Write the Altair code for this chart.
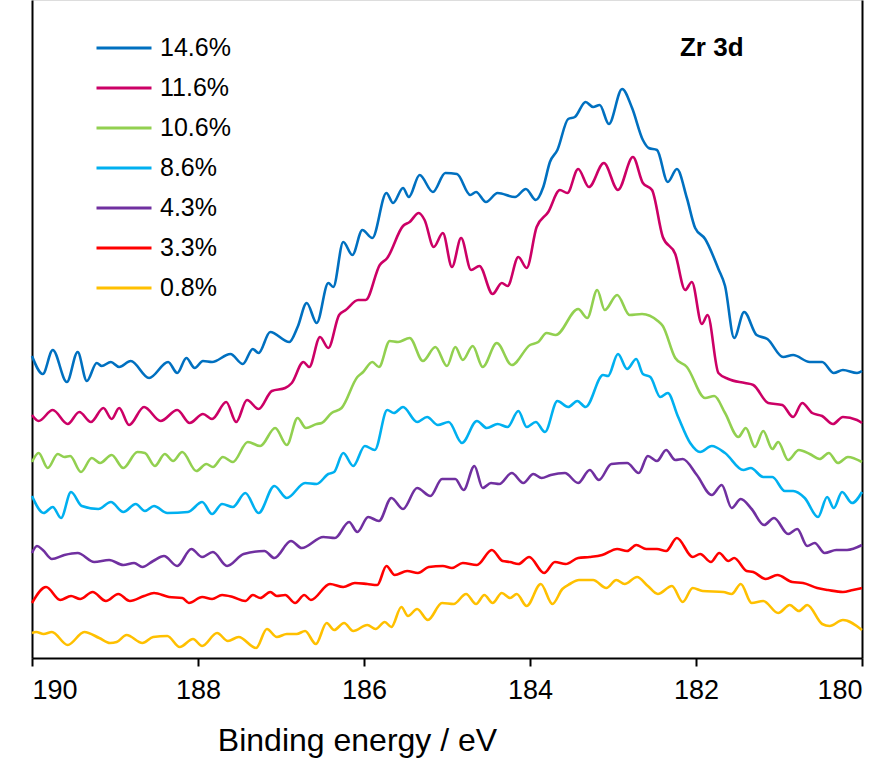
import altair as alt
import pandas as pd

# Zr 3d XPS spectra, stacked with vertical offsets (arbitrary intensity units)
series_labels = ["14.6%", "11.6%", "10.6%", "8.6%", "4.3%", "3.3%", "0.8%"]
series_colors = ["#0070C0", "#CC0066", "#92D050", "#00B0F0", "#7030A0", "#FF0000", "#FFC000"]

be_146 = [190.00, 189.87, 189.75, 189.58, 189.45, 189.34, 189.22, 189.16, 189.05, 188.95, 188.81, 188.59,
          188.36, 188.25, 188.14, 188.04, 187.94, 187.83, 187.61, 187.46, 187.34, 187.27, 187.13, 186.90,
          186.80, 186.69, 186.57, 186.43, 186.37, 186.25, 186.14, 186.02, 185.90, 185.73, 185.65, 185.53,
          185.46, 185.33, 185.17, 185.02, 184.88, 184.72, 184.65, 184.53, 184.39, 184.18, 184.05, 183.93,
          183.84, 183.76, 183.67, 183.54, 183.46, 183.33, 183.24, 183.16, 183.05, 182.89, 182.77, 182.64,
          182.57, 182.47, 182.34, 182.23, 182.11, 182.01, 181.89, 181.73, 181.65, 181.54, 181.42, 181.27,
          181.14, 180.95, 180.83, 180.63, 180.48, 180.34, 180.23, 180.06, 180.00]
int_146 = [302, 284, 308, 276, 306, 277, 295, 292, 296, 291, 297, 280,
           296, 285, 300, 290, 297, 296, 304, 294, 309, 305, 326, 316,
           331, 355, 335, 375, 371, 416, 403, 428, 420, 465, 455, 470,
           461, 483, 466, 485, 484, 463, 466, 456, 465, 461, 469, 458,
           471, 496, 508, 539, 541, 556, 551, 553, 534, 569, 550, 518,
           510, 508, 476, 489, 460, 430, 419, 389, 372, 320, 346, 323,
           319, 301, 303, 296, 296, 285, 288, 285, 287]

be_116 = [190.00, 189.92, 189.75, 189.57, 189.43, 189.29, 189.14, 189.04, 188.95, 188.83, 188.65, 188.45,
          188.25, 188.10, 187.94, 187.83, 187.66, 187.54, 187.41, 187.27, 187.11, 186.95, 186.87, 186.73,
          186.66, 186.53, 186.43, 186.30, 186.22, 186.07, 185.98, 185.81, 185.72, 185.53, 185.45, 185.34,
          185.27, 185.16, 185.05, 184.94, 184.83, 184.71, 184.61, 184.45, 184.34, 184.27, 184.14, 184.04,
          183.92, 183.78, 183.64, 183.55, 183.42, 183.29, 183.11, 182.94, 182.76, 182.64, 182.53, 182.40,
          182.25, 182.13, 182.05, 181.93, 181.86, 181.73, 181.61, 181.41, 181.31, 181.13, 180.96, 180.83,
          180.72, 180.60, 180.48, 180.35, 180.23, 180.06, 180.00]
int_116 = [243, 237, 248, 234, 246, 236, 250, 239, 250, 233, 251, 237,
           248, 235, 244, 239, 256, 236, 258, 249, 267, 270, 275, 296,
           291, 321, 310, 343, 348, 358, 358, 393, 400, 432, 436, 445,
           438, 411, 425, 391, 420, 388, 392, 364, 375, 372, 401, 390,
           431, 446, 468, 465, 489, 471, 495, 468, 501, 475, 468, 421,
           404, 368, 376, 334, 343, 285, 279, 275, 273, 255, 253, 241,
           255, 245, 242, 234, 241, 238, 235]

be_106 = [190.00, 189.92, 189.81, 189.69, 189.61, 189.54, 189.41, 189.28, 189.18, 189.04, 188.90, 188.73,
          188.64, 188.52, 188.40, 188.30, 188.19, 188.02, 187.90, 187.82, 187.70, 187.58, 187.40, 187.25,
          187.07, 186.93, 186.80, 186.70, 186.57, 186.51, 186.39, 186.27, 186.08, 186.01, 185.90, 185.82,
          185.69, 185.59, 185.45, 185.29, 185.14, 185.00, 184.90, 184.81, 184.69, 184.57, 184.40, 184.22,
          184.00, 183.90, 183.80, 183.69, 183.42, 183.31, 183.19, 183.10, 182.95, 182.80, 182.65, 182.46,
          182.40, 182.25, 182.11, 181.89, 181.78, 181.65, 181.49, 181.40, 181.29, 181.19, 181.08, 181.01,
          180.89, 180.76, 180.63, 180.51, 180.40, 180.29, 180.17, 180.00]
int_106 = [196, 205, 190, 204, 201, 202, 186, 200, 195, 203, 190, 206,
           205, 192, 204, 197, 206, 187, 194, 191, 201, 196, 216, 212,
           230, 213, 240, 230, 234, 235, 245, 250, 281, 286, 296, 291,
           317, 316, 320, 297, 311, 292, 311, 298, 312, 291, 315, 293,
           313, 316, 325, 323, 349, 340, 368, 348, 363, 343, 344, 337,
           332, 300, 291, 260, 262, 245, 221, 230, 211, 227, 209, 216,
           198, 208, 204, 199, 205, 195, 201, 196]

be_86 = [190.00, 189.86, 189.75, 189.65, 189.53, 189.40, 189.20, 189.05, 188.90, 188.75, 188.64, 188.53,
         188.37, 188.12, 187.95, 187.83, 187.71, 187.58, 187.43, 187.27, 187.08, 186.93, 186.71, 186.57,
         186.43, 186.36, 186.25, 186.13, 185.99, 185.87, 185.72, 185.64, 185.53, 185.36, 185.24, 185.11,
         184.98, 184.82, 184.64, 184.52, 184.39, 184.27, 184.14, 184.04, 183.93, 183.82, 183.67, 183.54,
         183.43, 183.33, 183.12, 183.06, 182.94, 182.83, 182.72, 182.64, 182.55, 182.43, 182.34, 182.22,
         182.07, 181.95, 181.81, 181.65, 181.43, 181.34, 181.19, 181.08, 180.93, 180.83, 180.69, 180.53,
         180.42, 180.34, 180.24, 180.12, 180.00]
int_86 = [162, 145, 151, 140, 166, 152, 149, 156, 146, 154, 147, 152,
          145, 146, 156, 144, 154, 151, 165, 145, 172, 160, 175, 174,
          184, 186, 205, 192, 212, 208, 248, 245, 251, 236, 241, 233,
          236, 215, 237, 230, 234, 231, 247, 231, 236, 226, 257, 251,
          257, 251, 283, 282, 304, 289, 299, 284, 281, 261, 265, 242,
          215, 206, 212, 205, 188, 190, 181, 181, 167, 167, 160, 141,
          161, 150, 166, 155, 166]

be_43 = [190.00, 189.94, 189.87, 189.76, 189.61, 189.45, 189.25, 189.07, 188.90, 188.77, 188.67, 188.54,
         188.41, 188.25, 188.08, 187.95, 187.82, 187.65, 187.45, 187.20, 187.08, 186.88, 186.75, 186.49,
         186.35, 186.18, 186.08, 185.95, 185.82, 185.67, 185.53, 185.36, 185.20, 185.06, 184.90, 184.80,
         184.67, 184.57, 184.47, 184.37, 184.22, 184.08, 183.96, 183.86, 183.75, 183.58, 183.42, 183.28,
         183.17, 183.02, 182.83, 182.69, 182.58, 182.47, 182.36, 182.25, 182.16, 181.99, 181.81, 181.69,
         181.57, 181.46, 181.33, 181.18, 181.06, 180.89, 180.78, 180.66, 180.57, 180.45, 180.31, 180.18,
         180.00]
int_43 = [105, 112, 108, 99, 103, 105, 96, 98, 93, 95, 91, 97,
          102, 92, 109, 101, 106, 92, 104, 107, 100, 117, 110, 121,
          120, 136, 126, 141, 137, 160, 149, 170, 162, 179, 179, 168,
          192, 170, 175, 174, 185, 175, 184, 180, 183, 185, 175, 188,
          178, 194, 195, 185, 202, 197, 208, 198, 199, 183, 163, 173,
          150, 159, 149, 133, 140, 124, 129, 112, 115, 105, 108, 108,
          113]

be_33 = [190.00, 189.83, 189.66, 189.53, 189.42, 189.27, 189.11, 188.96, 188.82, 188.65, 188.53, 188.35,
         188.19, 188.11, 187.95, 187.83, 187.71, 187.58, 187.43, 187.34, 187.25, 187.13, 187.05, 186.95,
         186.83, 186.72, 186.64, 186.41, 186.25, 186.11, 185.96, 185.84, 185.73, 185.63, 185.48, 185.35,
         185.22, 185.05, 184.94, 184.81, 184.64, 184.46, 184.33, 184.24, 184.14, 184.01, 183.83, 183.70,
         183.57, 183.42, 183.28, 183.13, 182.95, 182.83, 182.72, 182.60, 182.47, 182.36, 182.23, 182.04,
         181.95, 181.82, 181.72, 181.61, 181.54, 181.39, 181.31, 181.16, 181.02, 180.84, 180.71, 180.54,
         180.41, 180.23, 180.11, 180.00]
int_33 = [55, 71, 58, 62, 59, 66, 57, 64, 57, 62, 65, 61,
          60, 55, 61, 59, 63, 61, 57, 63, 60, 66, 62, 63,
          55, 63, 58, 74, 71, 75, 74, 73, 92, 83, 87, 85,
          91, 92, 90, 95, 93, 108, 97, 96, 94, 101, 85, 96,
          94, 100, 101, 103, 109, 107, 113, 109, 109, 107, 120, 101,
          104, 96, 105, 97, 100, 87, 86, 79, 83, 76, 75, 70,
          68, 66, 68, 70]

be_08 = [190.00, 189.95, 189.86, 189.76, 189.57, 189.37, 189.19, 189.06, 188.98, 188.86, 188.67, 188.54,
         188.37, 188.22, 188.06, 187.95, 187.77, 187.64, 187.51, 187.30, 187.17, 187.05, 186.93, 186.81,
         186.71, 186.58, 186.45, 186.36, 186.24, 186.13, 185.96, 185.86, 185.75, 185.67, 185.55, 185.47,
         185.36, 185.23, 185.06, 184.92, 184.77, 184.65, 184.55, 184.45, 184.34, 184.24, 184.16, 184.04,
         183.87, 183.73, 183.61, 183.52, 183.41, 183.24, 183.08, 182.96, 182.86, 182.71, 182.58, 182.46,
         182.29, 182.16, 182.04, 181.92, 181.67, 181.57, 181.46, 181.33, 181.19, 181.01, 180.87, 180.76,
         180.66, 180.48, 180.39, 180.23, 180.00]
int_08 = [25, 26, 24, 26, 13, 26, 20, 15, 16, 23, 15, 21,
          22, 11, 19, 12, 25, 17, 21, 10, 29, 21, 24, 24,
          27, 14, 35, 28, 35, 27, 33, 29, 36, 31, 51, 42,
          49, 38, 55, 54, 64, 54, 63, 55, 65, 60, 64, 52,
          74, 54, 69, 74, 78, 78, 70, 78, 74, 81, 72, 64,
          72, 56, 70, 67, 66, 64, 74, 55, 57, 45, 53, 47,
          53, 34, 32, 38, 28]

energy_sets = [be_146, be_116, be_106, be_86, be_43, be_33, be_08]
intensity_sets = [int_146, int_116, int_106, int_86, int_43, int_33, int_08]

frames = []
for label, be, inten in zip(series_labels, energy_sets, intensity_sets):
    frames.append(pd.DataFrame({"energy": be, "intensity": inten, "sample": label}))
spectra = pd.concat(frames, ignore_index=True)

tick_values = [180, 182, 184, 186, 188, 190]
font = "Liberation Sans"

x_scale = alt.Scale(domain=[180, 190], reverse=True, nice=False, zero=False)
y_scale = alt.Scale(domain=[0, 658], nice=False, zero=False)

# one shared bottom axis definition, reused by every layer
x_enc = alt.X(
    "energy:Q",
    scale=x_scale,
    axis=alt.Axis(
        values=tick_values, format="d", grid=False,
        domainColor="black", domainWidth=2,
        tickColor="black", tickWidth=2, tickSize=8,
        labelFont=font, labelFontSize=27, labelColor="black", labelPadding=11,
        title="Binding energy / eV", titleFont=font, titleFontSize=32,
        titleFontWeight="normal", titleColor="black",
        titleX=325, titleY=92, titleAlign="center", titleBaseline="alphabetic",
    ),
)

def frame_axis(side):
    return alt.Axis(orient=side, title=None, labels=False, ticks=False, grid=False,
                    domainColor="black", domainWidth=2)

lines = alt.Chart(spectra).mark_line(strokeWidth=2.6, interpolate="monotone").encode(
    x=x_enc,
    y=alt.Y("intensity:Q", scale=y_scale, axis=frame_axis("left")),
    color=alt.Color(
        "sample:N",
        scale=alt.Scale(domain=series_labels, range=series_colors),
        legend=alt.Legend(
            title=None, orient="none", legendX=63, legendY=35,
            symbolType="stroke", symbolSize=3025, symbolStrokeWidth=3,
            labelFont=font, labelFontSize=25, labelColor="black",
            labelOffset=7, clipHeight=26, rowPadding=14, padding=0,
        ),
    ),
)

# invisible copy of the spectra that only carries the right-hand frame line
right_frame = alt.Chart(spectra).mark_line(opacity=0).encode(
    x=x_enc,
    y=alt.Y("intensity:Q", scale=y_scale, axis=frame_axis("right")),
    detail="sample:N",
)

tag = alt.Chart(pd.DataFrame({"energy": [181.81], "intensity": [610], "label": ["Zr 3d"]})).mark_text(
    font=font, fontSize=26, fontWeight="bold", color="black"
).encode(
    x=x_enc,
    y=alt.Y("intensity:Q", scale=y_scale, axis=None),
    text="label:N",
)

chart = alt.layer(lines, right_frame, tag).resolve_axis(y="independent").properties(
    width=830, height=658,
    padding={"left": 32, "top": 0, "right": 28, "bottom": 100},
    autosize=alt.AutoSizeParams(type="none"),
).configure_view(stroke=None).configure(background="white")

chart.save("out.html", embed_options={"renderer": "svg", "actions": False})
